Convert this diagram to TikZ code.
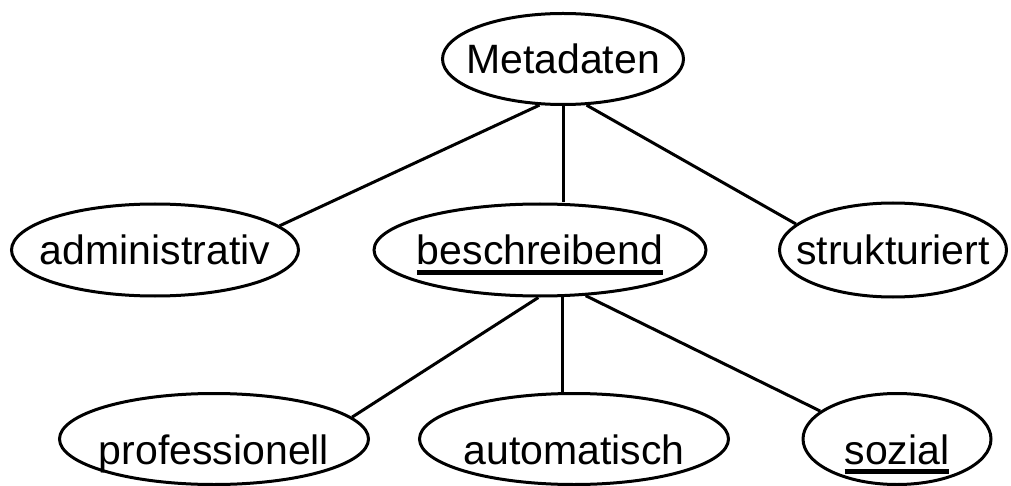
\documentclass[tikz,border=0pt]{standalone}
\usepackage{fontspec}
\setmainfont{Liberation Sans}
\usetikzlibrary{shapes.geometric}
\newcommand{\ulword}[1]{\setbox0\hbox{#1}\rlap{\rule[-9.5pt]{\wd0}{4.3pt}}\box0}
\newcommand{\bubtext}[1]{\makebox[0pt]{#1}}
\begin{document}
\begin{tikzpicture}[x=1pt,y=1pt,
  bubble/.style={draw, ellipse, line width=3pt, inner sep=0pt, text height=30pt, text depth=0pt, font=\fontsize{41}{49}\selectfont},
  low/.style={text height=50pt},
  link/.style={line width=3pt}]
\useasboundingbox (0,0) rectangle (1011,-486);
\node[bubble, minimum width=241pt, minimum height=91pt] (meta) at (563,-59) {\bubtext{Metadaten}};
\node[bubble, minimum width=287pt, minimum height=92pt] (admin) at (155,-250) {\bubtext{administrativ}};
\node[bubble, minimum width=332pt, minimum height=92pt] (besch) at (540,-250) {\bubtext{\ulword{beschreibend}}};
\node[bubble, minimum width=227pt, minimum height=94pt] (strukt) at (893,-250) {\bubtext{strukturiert}};
\node[bubble, low, minimum width=309pt, minimum height=91pt] (prof) at (214,-439) {\bubtext{professionell}};
\node[bubble, low, minimum width=309pt, minimum height=91pt] (auto) at (574,-439) {\bubtext{automatisch}};
\node[bubble, low, minimum width=188pt, minimum height=91pt] (sozial) at (897,-439) {\bubtext{\ulword{sozial}}};

\draw[link] (meta.243) -- (admin.11);
\draw[link] (meta.south) -- (meta.south |- besch.north);
\draw[link] (meta.297) -- (strukt.165);
\draw[link] (besch.268) -- (prof.9);
\draw[link] (besch.296) -- (besch.296 |- auto.north);
\draw[link] (besch.315) -- (sozial.160);
\end{tikzpicture}
\end{document}
